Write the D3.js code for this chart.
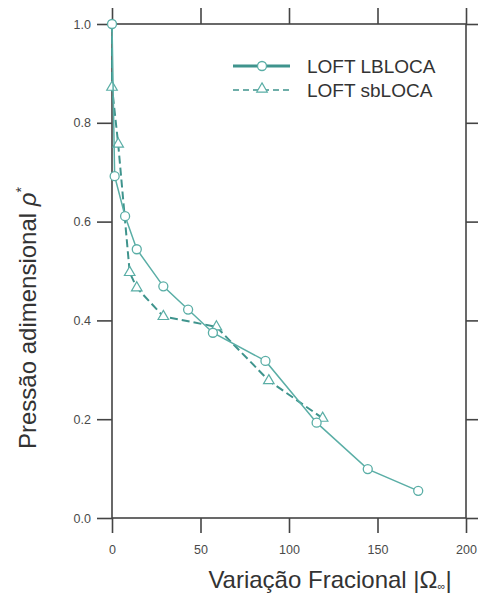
<!DOCTYPE html>
<html>
<head>
<meta charset="utf-8">
<script src="https://cdn.jsdelivr.net/npm/d3@7"></script>
<style>
  body { margin: 0; background: #fff; }
  svg { display: block; }
</style>
</head>
<body>
<svg id="chart" width="478" height="599"></svg>
<script>
// LOFT dimensionless pressure versus fractional variation
const lbX = [0, 1.5, 7.4, 14, 29, 43, 57, 86.7, 115.6, 144.5, 173];
const lbY = [1.0, 0.692, 0.611, 0.544, 0.469, 0.422, 0.375, 0.318, 0.193, 0.099, 0.055];
const sbX = [0, 0, 3.5, 10, 14, 29, 59, 88.6, 119];
const sbY = [1.0, 0.872, 0.757, 0.497, 0.466, 0.408, 0.387, 0.278, 0.202];
const xTicks = [0, 50, 100, 150, 200];
const yTicks = [0.0, 0.2, 0.4, 0.6, 0.8, 1.0];
const seriesNames = ["LOFT LBLOCA", "LOFT sbLOCA"];

const svg = d3.select("#chart");
const plotL = 112, plotR = 466, plotT = 24, plotB = 518;
const x = d3.scaleLinear().domain([0, 200]).range([plotL, plotR]);
const y = d3.scaleLinear().domain([0, 1]).range([plotB, plotT]);

const axisColor = "#444";
const tickColor = "#4a4a4a";
const lbColor = "#5aaea6";
const sbColor = "#3f948d";
const font = "Liberation Sans, Arial, sans-serif";

// frame
svg.append("rect")
  .attr("x", plotL).attr("y", plotT)
  .attr("width", plotR - plotL).attr("height", plotB - plotT)
  .attr("fill", "none").attr("stroke", axisColor).attr("stroke-width", 1.6);

function styleAxis(g, labels) {
  g.select(".domain").remove();
  g.selectAll(".tick line").attr("stroke", axisColor).attr("stroke-width", 1.6);
  g.selectAll(".tick text")
    .attr("fill", tickColor)
    .style("font-family", font)
    .style("font-size", "12.5px");
  if (!labels) g.selectAll(".tick text").remove();
}

svg.append("g").attr("transform", `translate(0,${plotB})`)
  .call(d3.axisBottom(x).tickValues(xTicks).tickSize(15).tickPadding(12).tickFormat(d3.format("d")))
  .call(g => styleAxis(g, true));
svg.append("g").attr("transform", `translate(0,${plotT})`)
  .call(d3.axisTop(x).tickValues(xTicks).tickSize(16))
  .call(g => styleAxis(g, false));
svg.append("g").attr("transform", `translate(${plotL},0)`)
  .call(d3.axisLeft(y).tickValues(yTicks).tickSize(15).tickPadding(6).tickFormat(d3.format(".1f")))
  .call(g => styleAxis(g, true));
svg.append("g").attr("transform", `translate(${plotR},0)`)
  .call(d3.axisRight(y).tickValues(yTicks).tickSize(14))
  .call(g => styleAxis(g, false));

const lbData = lbX.map((v, i) => [v, lbY[i]]);
const sbData = sbX.map((v, i) => [v, sbY[i]]);
const line = d3.line().x(d => x(d[0])).y(d => y(d[1]));
const tri = d3.symbol().type(d3.symbolTriangle).size(48);

// sbLOCA dashed with triangles
svg.append("path").datum(sbData)
  .attr("d", line).attr("fill", "none")
  .attr("stroke", sbColor).attr("stroke-width", 2)
  .attr("stroke-dasharray", "8,4");
svg.append("g").selectAll("path").data(sbData.slice(1)).join("path")
  .attr("d", tri)
  .attr("transform", d => `translate(${x(d[0])},${y(d[1])})`)
  .attr("fill", "#fff").attr("stroke", lbColor).attr("stroke-width", 1.2);

// LBLOCA solid with circles
svg.append("path").datum(lbData)
  .attr("d", line).attr("fill", "none")
  .attr("stroke", lbColor).attr("stroke-width", 1.5);
svg.append("g").selectAll("circle").data(lbData).join("circle")
  .attr("cx", d => x(d[0])).attr("cy", d => y(d[1])).attr("r", 4.5)
  .attr("fill", "#fff").attr("stroke", lbColor).attr("stroke-width", 1.3);

// legend
const lg = svg.append("g").attr("transform", "translate(233,66)");
lg.append("line").attr("x1", 0).attr("x2", 57).attr("y1", 0).attr("y2", 0)
  .attr("stroke", sbColor).attr("stroke-width", 3);
lg.append("circle").attr("cx", 29).attr("cy", 0).attr("r", 4.5)
  .attr("fill", "#fff").attr("stroke", lbColor).attr("stroke-width", 1.3);
lg.append("line").attr("x1", 0).attr("x2", 57).attr("y1", 24).attr("y2", 24)
  .attr("stroke", sbColor).attr("stroke-width", 1.5).attr("stroke-dasharray", "6,4");
lg.append("path").attr("d", tri)
  .attr("transform", "translate(29,23)")
  .attr("fill", "#fff").attr("stroke", lbColor).attr("stroke-width", 1.2);
lg.selectAll("text").data(seriesNames).join("text")
  .attr("x", 74).attr("y", (d, i) => i * 24 + 7)
  .attr("fill", "#333")
  .style("font-family", font)
  .style("font-size", "19px")
  .text(d => d);

// axis titles
svg.append("text")
  .attr("x", 330).attr("y", 588).attr("text-anchor", "middle")
  .attr("fill", "#333")
  .style("font-family", font)
  .style("font-size", "24px")
  .html('Variação Fracional |Ω<tspan font-size="11px" dy="2">∞</tspan><tspan dy="-2">|</tspan>');

svg.append("text")
  .attr("transform", "translate(36,318) rotate(-90)")
  .attr("text-anchor", "middle")
  .attr("fill", "#333")
  .style("font-family", font)
  .style("font-size", "24px")
  .html('Pressão adimensional <tspan font-style="italic">ρ</tspan><tspan font-size="14px" dy="-10">*</tspan>');
</script>
</body>
</html>
